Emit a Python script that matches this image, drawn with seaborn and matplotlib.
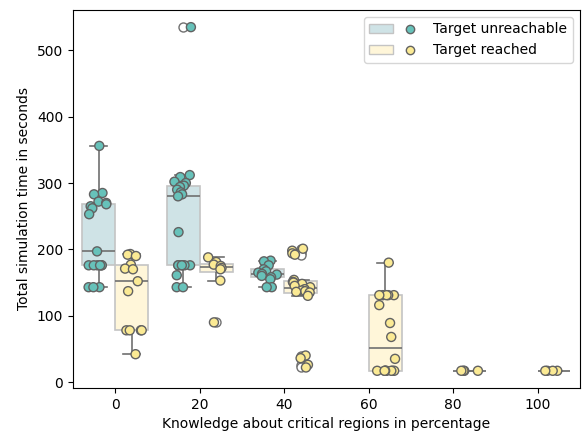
import numpy as np
import pandas as pd
import matplotlib
matplotlib.use("Agg")
import matplotlib.pyplot as plt
import seaborn as sns
from matplotlib.patches import Patch
from matplotlib.lines import Line2D
from matplotlib.legend_handler import HandlerTuple

# Knowledge levels (percent of critical regions known) and run outcomes
knowledge_levels = ["0", "20", "40", "60", "80", "100"]
outcomes = ["Target unreachable", "Target reached"]

# Total simulation time (s) per run, grouped by knowledge level and outcome
unreachable_0 = [356, 285, 283, 272, 270, 268, 265, 262, 253, 197,
                 176, 176, 176, 176, 176, 176, 143, 143, 143]
reached_0 = [193, 192, 190, 177, 171, 170, 152, 137, 78, 78, 78, 78, 42]

unreachable_20 = [535, 312, 309, 302, 300, 296, 294, 290, 286, 283, 280,
                  226, 176, 176, 176, 176, 176, 176, 161, 143, 143]
reached_20 = [188, 181, 177, 175, 172, 170, 153, 90]

unreachable_40 = [183, 182, 176, 170, 167, 165, 163, 162, 160, 158, 155, 143, 143]
reached_40 = [201, 198, 194, 192, 154, 151, 150, 148, 145, 143, 140, 138,
              137, 136, 135, 130, 40, 36, 26, 22]

reached_60 = [180, 131, 131, 131, 131, 131, 116, 89, 68, 35,
              17, 17, 17, 17, 17, 17, 17, 17]
reached_80 = [17, 17, 17, 17]
reached_100 = [17, 17, 17, 17]

groups = [
    ("0", outcomes[0], unreachable_0), ("0", outcomes[1], reached_0),
    ("20", outcomes[0], unreachable_20), ("20", outcomes[1], reached_20),
    ("40", outcomes[0], unreachable_40), ("40", outcomes[1], reached_40),
    ("60", outcomes[1], reached_60),
    ("80", outcomes[1], reached_80),
    ("100", outcomes[1], reached_100),
]
df = pd.DataFrame(
    [(k, o, v) for k, o, vals in groups for v in vals],
    columns=["knowledge", "outcome", "time"],
)

box_colors = {outcomes[0]: "#cfe3e6", outcomes[1]: "#fff6d9"}
point_colors = {outcomes[0]: "#67c2ba", outcomes[1]: "#fbea94"}

fig, ax = plt.subplots(figsize=(5.88, 4.33), dpi=100)
fig.subplots_adjust(left=0.124, right=0.986, top=0.977, bottom=0.104)

sns.boxplot(
    data=df, x="knowledge", y="time", hue="outcome",
    order=knowledge_levels, hue_order=outcomes, palette=box_colors,
    saturation=1, width=0.78, linecolor="#707070", linewidth=1.2,
    flierprops=dict(marker="o", markerfacecolor="white",
                    markeredgecolor="#707070", markersize=6.5),
    legend=False, ax=ax,
)
for patch in ax.patches:
    patch.set_edgecolor("#c4c4c4")

np.random.seed(3)
sns.stripplot(
    data=df, x="knowledge", y="time", hue="outcome",
    order=knowledge_levels, hue_order=outcomes, palette=point_colors,
    dodge=True, jitter=0.24, size=6.5, linewidth=1, edgecolor="#626262",
    legend=False, ax=ax,
)

ax.set_xlabel("Knowledge about critical regions in percentage")
ax.set_ylabel("Total simulation time in seconds")

handles = [
    (Patch(facecolor=box_colors[o], edgecolor="#c4c4c4"),
     Line2D([], [], marker="o", linestyle="none", markersize=6,
            markerfacecolor=point_colors[o], markeredgecolor="#626262"))
    for o in outcomes
]
ax.legend(handles, outcomes, loc="upper right", handlelength=3.8,
          handler_map={tuple: HandlerTuple(ndivide=None)})

fig.savefig("out.png", dpi=100)
